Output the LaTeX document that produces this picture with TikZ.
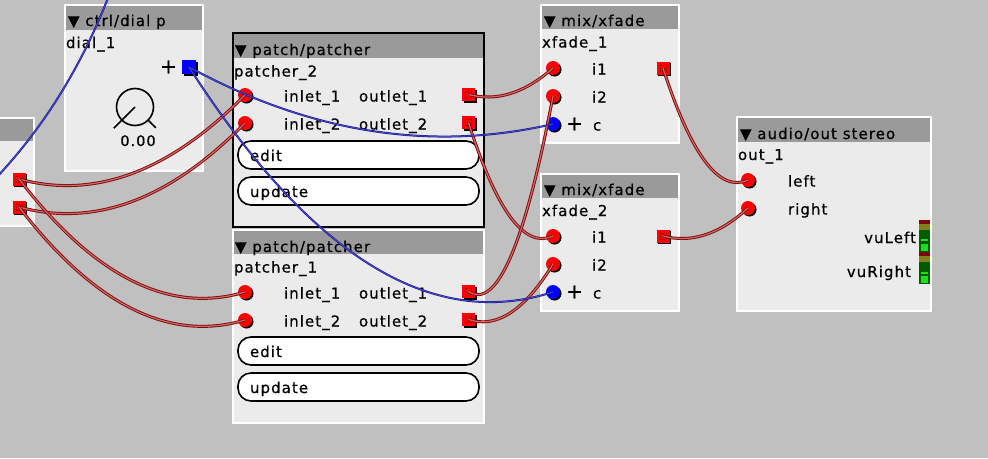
\documentclass[tikz,border=0pt]{standalone}
\usepackage{fontspec}
\setmainfont{DejaVu Sans}[LetterSpace=7, FakeBold=0.6]
\usetikzlibrary{calc,shadows}
\definecolor{bgc}{HTML}{C0C0C0}
\definecolor{bodyc}{HTML}{EBEBEB}
\definecolor{tbarc}{HTML}{9A9A9A}
\definecolor{wdark}{HTML}{800808}
\definecolor{wlight}{HTML}{CC6A6A}
\definecolor{bdark}{HTML}{1A1A8A}
\definecolor{blight}{HTML}{4A4AD0}
\definecolor{vured}{HTML}{7A0A0A}
\definecolor{vuolive}{HTML}{808018}
\definecolor{vudark}{HTML}{005A00}
\definecolor{vubright}{HTML}{20DC20}
\newcommand\axwire[3][redwire]{%
  \draw[#1] let \p1=(#2.center), \p2=(#3.center),
    \n1={(\x1+\x2)/2},
    \n2={min(\y1,\y2)-0.1*abs(\y2-\y1)-0.1*abs(\x2-\x1)} in
    (\p1) .. controls ({(\x1+2*\n1)/3},{(\y1+2*\n2)/3}) and ({(\x2+2*\n1)/3},{(\y2+2*\n2)/3}) .. (\p2);}
\tikzset{
  box/.style={draw=white, line width=2pt, fill=bodyc, inner sep=0, outer sep=0, anchor=north west},
  selbox/.style={box, draw=black},
  lbl/.style={anchor=base west, inner sep=0, outer sep=0},
  lblr/.style={anchor=base east, inner sep=0, outer sep=0},
  plus/.style={anchor=center, inner sep=0, outer sep=0, font=\fontsize{20}{22}\selectfont},
  inlet/.style={circle, fill=red, minimum size=14pt, inner sep=0, outer sep=0,
    drop shadow={shadow xshift=1.5pt, shadow yshift=-1.5pt, fill=black, opacity=1}},
  cinlet/.style={inlet, fill=blue},
  outlet/.style={rectangle, fill=red, minimum size=13pt, inner sep=0, outer sep=0,
    drop shadow={shadow xshift=1.5pt, shadow yshift=-1.5pt, fill=black, opacity=1},
    path picture={\draw[dash pattern=on 1pt off 1.5pt, line width=0.4pt, red!55!black]
      ([shift={(3.5pt,-3.5pt)}]path picture bounding box.north west) rectangle
      ([shift={(-3.5pt,3.5pt)}]path picture bounding box.south east);}},
  boutlet/.style={rectangle, fill=blue, minimum size=14pt, inner sep=0, outer sep=0,
    drop shadow={shadow xshift=1.5pt, shadow yshift=-1.5pt, fill=black, opacity=1}},
  btn/.style={draw=black, line width=1.6pt, fill=white, rounded corners=13pt,
    minimum height=28pt, text width=217pt, inner xsep=12pt, inner ysep=0pt,
    text height=12pt, text depth=0pt, align=left, outer sep=0, anchor=north west},
  redwire/.style={draw=wdark, double=wlight, line width=0.9pt, double distance=1.2pt},
  bluewire/.style={draw=bdark, double=blight, line width=0.6pt, double distance=0.8pt},
}
\begin{document}
\begin{tikzpicture}[x=1pt, y=1pt, font=\fontsize{15}{18}\selectfont]
\useasboundingbox (0,0) rectangle (988,-458);
\fill[bgc] (0,0) rectangle (988,-458);
\clip (0,0) rectangle (988,-458);

% ---------- left partial box ----------
\node[box, minimum width=43pt, minimum height=108pt] (leftbox) at (-9,-118) {};
\fill[tbarc] (-8,-119) rectangle (33,-141);
\node[outlet] (lo1) at (19,-179) {};
\node[outlet] (lo2) at (19,-207) {};

% ---------- ctrl/dial p ----------
\node[box, minimum width=138pt, minimum height=166pt] (dialbox) at (65,-5) {};
\fill[tbarc] (66,-6) rectangle (202,-30);
\node[lbl] (dialtitle) at (68,-26) {▼ ctrl/dial p};
\node[lbl] (dialname) at (66,-48) {dial\_1};
\node[plus] (dialplus) at (168.5,-67) {+};
\node[boutlet] (dialo) at (189,-67) {};
\node[circle, draw=black, line width=1.6pt, minimum size=37pt, inner sep=0, outer sep=0] (knob) at (135,-107) {};
\draw[line width=1.6pt] (knob.center) -- ++(225:30);
\draw[line width=1.6pt] (knob.-45) -- ++(-45:11);
\node[anchor=base, inner sep=0, font=\fontsize{14.5}{16}\selectfont] (dialval) at (138,-146) {0.00};

% ---------- patcher_2 (selected) ----------
\node[selbox, minimum width=251pt, minimum height=194pt] (p2box) at (233,-33) {};
\fill[tbarc] (234,-34) rectangle (483,-58);
\node[lbl] (p2title) at (235,-55) {▼ patch/patcher};
\node[lbl] (p2name) at (234,-76.5) {patcher\_2};
\node[inlet] (p2i1) at (245,-95) {};
\node[inlet] (p2i2) at (245,-123) {};
\node[lbl] (p2l1) at (284,-101.5) {inlet\_1};
\node[lbl] (p2l2) at (284,-129.5) {inlet\_2};
\node[lbl] (p2m1) at (359,-101.5) {outlet\_1};
\node[lbl] (p2m2) at (359,-129.5) {outlet\_2};
\node[outlet] (p2o1) at (468.5,-94.5) {};
\node[outlet] (p2o2) at (468.5,-122.5) {};
\node[btn] (p2edit) at (238,-141) {edit};
\node[btn] (p2upd) at (238,-177) {update};

% ---------- patcher_1 ----------
\node[box, minimum width=251pt, minimum height=193pt] (p1box) at (233,-230) {};
\fill[tbarc] (234,-231) rectangle (483,-254);
\node[lbl] (p1title) at (235,-252) {▼ patch/patcher};
\node[lbl] (p1name) at (234,-272.5) {patcher\_1};
\node[inlet] (p1i1) at (245,-292) {};
\node[inlet] (p1i2) at (245,-320) {};
\node[lbl] (p1l1) at (284,-298.5) {inlet\_1};
\node[lbl] (p1l2) at (284,-326.5) {inlet\_2};
\node[lbl] (p1m1) at (359,-298.5) {outlet\_1};
\node[lbl] (p1m2) at (359,-326.5) {outlet\_2};
\node[outlet] (p1o1) at (468.5,-291.5) {};
\node[outlet] (p1o2) at (468.5,-319.5) {};
\node[btn] (p1edit) at (238,-337) {edit};
\node[btn] (p1upd) at (238,-373) {update};

% ---------- xfade_1 ----------
\node[box, minimum width=138pt, minimum height=138pt] (x1box) at (541,-5) {};
\fill[tbarc] (542,-6) rectangle (678,-29);
\node[lbl] (x1title) at (544,-26) {▼ mix/xfade};
\node[lbl] (x1name) at (542,-47.5) {xfade\_1};
\node[inlet] (x1i1) at (553,-68) {};
\node[inlet] (x1i2) at (553,-96) {};
\node[cinlet] (x1c) at (553,-124) {};
\node[plus] (x1plus) at (574.5,-124) {+};
\node[lbl] (x1l1) at (592,-74.5) {i1};
\node[lbl] (x1l2) at (592,-102.5) {i2};
\node[lbl] (x1l3) at (593,-130.5) {c};
\node[outlet] (x1o) at (663,-68) {};

% ---------- xfade_2 ----------
\node[box, minimum width=138pt, minimum height=137pt] (x2box) at (541,-174) {};
\fill[tbarc] (542,-175) rectangle (678,-198);
\node[lbl] (x2title) at (544,-195) {▼ mix/xfade};
\node[lbl] (x2name) at (542,-216) {xfade\_2};
\node[inlet] (x2i1) at (553,-236) {};
\node[inlet] (x2i2) at (553,-264) {};
\node[cinlet] (x2c) at (553,-292) {};
\node[plus] (x2plus) at (574.5,-292) {+};
\node[lbl] (x2l1) at (592,-242.5) {i1};
\node[lbl] (x2l2) at (592,-270.5) {i2};
\node[lbl] (x2l3) at (593,-298.5) {c};
\node[outlet] (x2o) at (663,-236) {};

% ---------- audio/out stereo ----------
\node[box, minimum width=194pt, minimum height=194pt] (aobox) at (737,-117) {};
\fill[tbarc] (738,-118) rectangle (930,-142);
\node[lbl] (aotitle) at (740,-139) {▼ audio/out stereo};
\node[lbl] (aoname) at (738,-160) {out\_1};
\node[inlet] (outL) at (748,-180) {};
\node[inlet] (outR) at (748,-208) {};
\node[lbl] (aol1) at (788,-186.5) {left};
\node[lbl] (aol2) at (788,-214.5) {right};
\node[lblr] (vul) at (916,-243) {vuLeft};
\node[lblr] (vur) at (911,-277) {vuRight};
% VU meters
\fill[vured] (919,-220) rectangle (930,-224);
\fill[vuolive] (919,-224) rectangle (930,-230);
\fill[vudark] (919,-230) rectangle (930,-252);
\fill[vubright] (921,-239) rectangle (928,-240.5);
\fill[vubright] (921,-244) rectangle (928,-251);
\fill[vured] (919,-252) rectangle (930,-256);
\fill[vuolive] (919,-256) rectangle (930,-262);
\fill[vudark] (919,-262) rectangle (930,-284);
\fill[vubright] (921,-272) rectangle (928,-273.5);
\fill[vubright] (921,-276) rectangle (928,-283);

% ---------- wires ----------
\axwire{lo1}{p2i1}
\axwire{lo2}{p2i2}
\axwire{lo1}{p1i1}
\axwire{lo2}{p1i2}
\axwire{p2o1}{x1i1}
\axwire{p2o2}{x2i1}
\axwire{p1o1}{x1i2}
\axwire{p1o2}{x2i2}
\axwire{x1o}{outL}
\axwire{x2o}{outR}
\axwire[bluewire]{dialo}{x1c}
\axwire[bluewire]{dialo}{x2c}
\coordinate (offA) at (108,2);
\coordinate (offB) at (-4,-178);
\draw[bluewire] (offA) .. controls (81,-67) and (44,-127) .. (offB);
\end{tikzpicture}
\end{document}
